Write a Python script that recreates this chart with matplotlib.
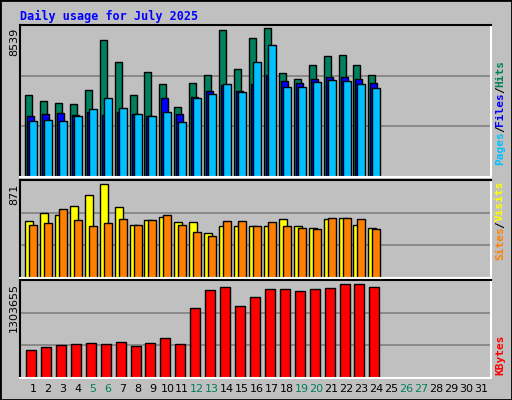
import matplotlib.pyplot as plt
import numpy as np

days = np.arange(1, 32)
hits = [4705, 4357, 4240, 4182, 4996, 7842, 6564, 4705, 6041, 5344, 4008, 5402,
        5867, 8423, 6216, 7958, 8539, 5983, 5635, 6448, 6913, 6971, 6448, 5867]
files = [3485, 3602, 3660, 3543, 3718, 3543, 3718, 3602, 3485, 4531, 3602, 4589,
         4938, 5286, 4938, 5344, 5867, 5518, 5402, 5635, 5751, 5751, 5635, 5402]
pages = [3195, 3253, 3195, 3485, 3892, 4531, 3950, 3602, 3485, 3718, 3137, 4531,
         4763, 5344, 4880, 6564, 7552, 5170, 5170, 5460, 5577, 5518, 5344, 5112]
visits = [524, 599, 581, 665, 768, 871, 656, 487, 534, 562, 515, 515,
          421, 478, 478, 478, 478, 543, 478, 459, 543, 553, 487, 468]
sites = [487, 506, 637, 534, 478, 506, 543, 487, 534, 581, 487, 431,
         393, 524, 524, 478, 515, 478, 468, 450, 553, 553, 543, 450]
kbytes = [382600, 425000, 453000, 468000, 482000, 468000, 496000, 439000, 482000,
          553000, 468000, 978000, 1219000, 1261000, 1006000, 1119000, 1233000,
          1233000, 1204000, 1233000, 1247000, 1303655, 1303655, 1261000]
weekend = [5, 6, 12, 13, 19, 20, 26, 27]

W, H = 512, 400
GRAY = "#C0C0C0"
MONO = "DejaVu Sans Mono"

fig = plt.figure(figsize=(W / 100, H / 100), dpi=100, facecolor=GRAY)
# outer black frame
fig.patches.append(plt.Rectangle((0, 0), 1, 1, transform=fig.transFigure,
                                 fill=False, edgecolor="black", lw=2))

STEP = 14.93
x_lo = 1 - 13 / STEP
x_hi = 1 + (491 - 33) / STEP


def panel(top, bottom):
    ax = fig.add_axes([20 / W, 1 - bottom / H, 471 / W, (bottom - top) / H])
    ax.set_facecolor(GRAY)
    ax.set_xlim(x_lo, x_hi)
    ax.set_xticks([])
    ax.set_yticks([])
    for s in ("top", "left"):
        ax.spines[s].set_color("black")
    for s in ("bottom", "right"):
        ax.spines[s].set_color("white")
    for sp in ax.spines.values():
        sp.set_linewidth(1.5)
    return ax


px = 1 / STEP
kw = dict(edgecolor="black", linewidth=1, align="edge")

# top panel
ax1 = panel(25, 177)
n = len(hits)
d = days[:n]
top1 = 8539 * 150 / 147
ax1.set_ylim(0, top1)
for g in (1 / 3, 2 / 3):
    ax1.axhline(top1 * g, color="#808080", lw=1.2, zorder=0)
ax1.bar(d - 8 * px, hits, 7 * px, color="#00805C", **kw)
ax1.bar(d - 6 * px, files, 7 * px, color="#0000FF", **kw)
ax1.bar(d - 4 * px, pages, 8 * px, color="#00C0FF", **kw)

# middle panel
ax2 = panel(180, 278)
top2 = 871 * 97 / 93
ax2.set_ylim(0, top2)
for g in (1 / 3, 2 / 3):
    ax2.axhline(top2 * g, color="#808080", lw=1.2, zorder=0)
ax2.bar(d - 8 * px, visits, 8 * px, color="#FFFF00", **kw)
ax2.bar(d - 4 * px, sites, 8 * px, color="#FF8000", **kw)

# bottom panel
ax3 = panel(280, 378)
top3 = 1303655 * 96 / 92
ax3.set_ylim(0, top3)
for g in (1 / 3, 2 / 3):
    ax3.axhline(top3 * g, color="#808080", lw=1.2, zorder=0)
ax3.bar(d - 7 * px, kbytes, 10 * px, color="#FF0000", **kw)

# day labels
for day in days:
    xf = (33 + (day - 1) * STEP) / W
    fig.text(xf, 1 - 389 / H, str(day), ha="center", va="center", fontsize=8,
             color="#00805C" if day in weekend else "black")

fig.text(20 / W, 1 - 16 / H, "Daily usage for July 2025", color="#0000FF",
         fontsize=8.5, fontweight="bold", family=MONO, va="center")

# max labels
for y, txt in ((28, "8539"), (184, "871"), (283, "1303655")):
    fig.text(14 / W, 1 - y / H, txt, rotation=90, ha="center", va="top", fontsize=8)


def side_label(y_bottom, parts):
    y = 1 - y_bottom / H
    for txt, col in parts:
        t = fig.text(500 / W, y, txt, rotation=90, ha="center", va="bottom",
                     color=col, fontsize=8, family=MONO, fontweight="bold")
        y += len(txt) * 6.5 / H


side_label(165, [("Pages", "#00C0FF"), ("/", "black"), ("Files", "#0000FF"),
                 ("/", "black"), ("Hits", "#00805C")])
side_label(260, [("Sites", "#FF8000"), ("/", "black"), ("Visits", "#FFFF00")])
side_label(375, [("KBytes", "#FF0000")])

fig.savefig("out.png", dpi=100, facecolor=GRAY)
